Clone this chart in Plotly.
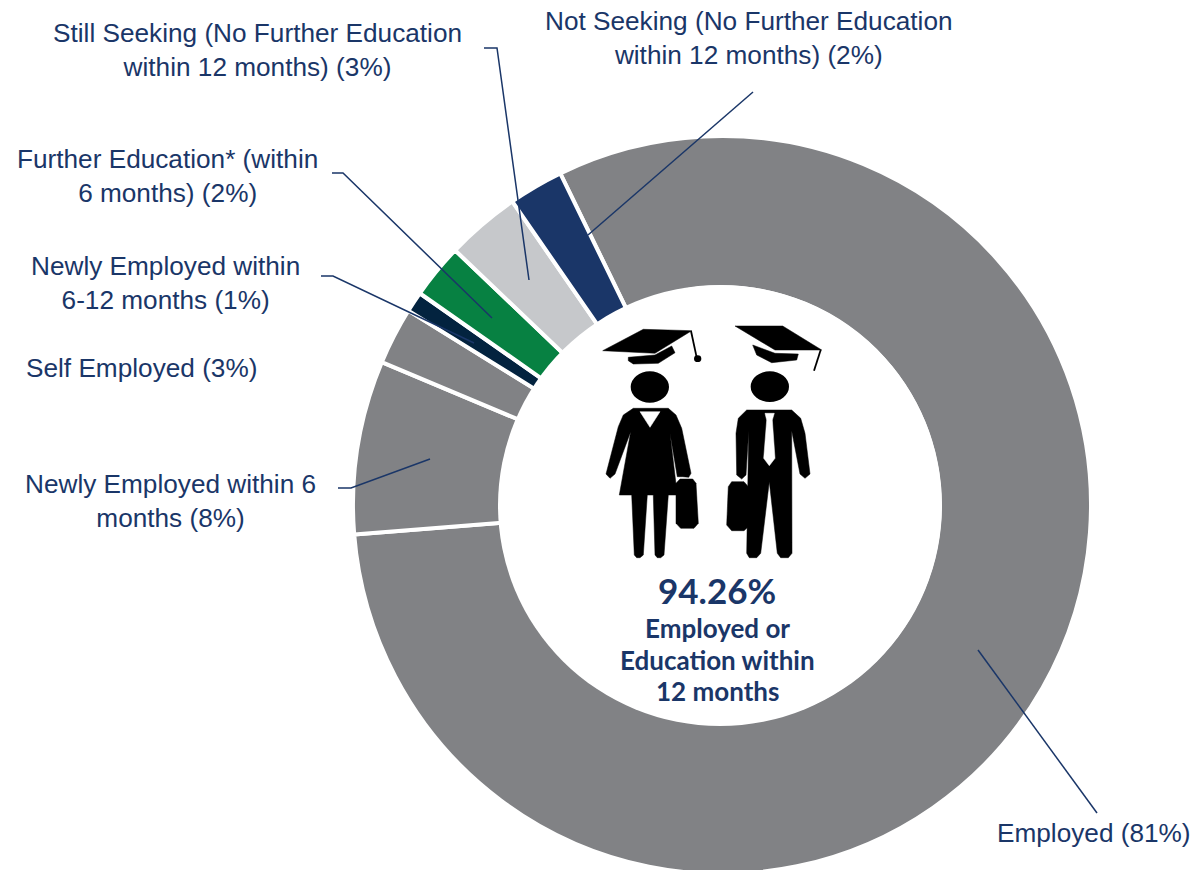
import plotly.graph_objects as go

# ---- data ----
categories = ["Employed", "Newly Employed within 6 months", "Self Employed",
              "Newly Employed within 6-12 months", "Further Education* (within 6 months)",
              "Still Seeking (No Further Education within 12 months)",
              "Not Seeking (No Further Education within 12 months)"]
shares = [80.95, 7.6, 2.5, 0.9, 2.4, 3.25, 2.4]
slice_colors = ["#818285", "#818285", "#818285", "#03233F", "#078142", "#C6C8CB", "#1A3668"]
label_texts = ["Employed (81%)", "Newly Employed within 6<br>months (8%)", "Self Employed (3%)",
               "Newly Employed within<br>6-12 months (1%)", "Further Education* (within<br>6 months) (2%)",
               "Still Seeking (No Further Education<br>within 12 months) (3%)",
               "Not Seeking (No Further Education<br>within 12 months) (2%)"]
label_x = [1094, 170, 141, 165, 167, 257, 749]
label_y = [833, 501, 368, 283, 176, 50, 38]
leaders = [[(978, 650), (1097, 813)],
           [(338, 488), (351, 488), (430, 459)],
           None,
           [(321, 276), (333, 276), (474, 343)],
           [(332, 173), (343, 173), (492, 318)],
           [(484, 48), (497, 48), (529, 280)],
           [(753, 92), (588, 235)]]
center_big = "94.26%"
center_small = ["Employed or", "Education within", "12 months"]

W, H = 1193, 880
NAVY = "#1A3668"
CX, CY, R = 722, 505, 369

fig = go.Figure()
fig.add_trace(go.Scatter(x=[None], y=[None], showlegend=False, hoverinfo="skip"))
fig.add_trace(go.Pie(
    labels=categories, values=shares, sort=False, direction="clockwise", rotation=-26,
    hole=0.59, textinfo="none", showlegend=False,
    marker=dict(colors=slice_colors, line=dict(color="white", width=4)),
    domain=dict(x=[(CX - R) / W, (CX + R) / W], y=[(H - CY - R) / H, (H - CY + R) / H]),
))

shapes = []
annotations = []

# white centre disc, slightly off the ring's centre as in the picture
shapes.append(dict(type="circle", x0=498, x1=942, y0=285, y1=726, xref="x", yref="y", layer="above",
                   fillcolor="white", line=dict(color="white", width=0)))

for pts in leaders:
    if pts:
        d = "M" + " L".join(f"{x},{y}" for x, y in pts)
        shapes.append(dict(type="path", path=d, xref="x", yref="y", layer="above",
                           line=dict(color=NAVY, width=1.5)))


# ---- icon: coordinates taken from a 3x crop whose origin is (590, 300) ----
def Z(x, y):
    return 590 + x / 3, 300 + y / 3


def poly(points, color="black"):
    d = "M" + " L".join("{:.1f},{:.1f}".format(*Z(*p)) for p in points) + " Z"
    shapes.append(dict(type="path", path=d, xref="x", yref="y", layer="above",
                       fillcolor=color, line=dict(color=color, width=0.5)))


def oval(x0, y0, x1, y1):
    a, b = Z(x0, y0), Z(x1, y1)
    shapes.append(dict(type="circle", x0=a[0], y0=a[1], x1=b[0], y1=b[1], xref="x", yref="y",
                       layer="above", fillcolor="black", line=dict(color="black", width=0)))


def stroke(p, q, w):
    a, b = Z(*p), Z(*q)
    shapes.append(dict(type="line", x0=a[0], y0=a[1], x1=b[0], y1=b[1], xref="x", yref="y",
                       layer="above", line=dict(color="black", width=w)))


# woman
oval(122, 214, 237, 308)
poly([(130, 325), (235, 325), (258, 345), (275, 385), (303, 520), (296, 532), (278, 530), (262, 530),
      (240, 400), (262, 585), (235, 585), (222, 765), (212, 773), (202, 773), (195, 765), (190, 585), (172, 585),
      (160, 765), (150, 773), (140, 773), (133, 765), (125, 585), (88, 585), (122, 395), (75, 522),
      (60, 535), (48, 522), (85, 380), (100, 345)])
poly([(150, 335), (210, 335), (180, 382)], "white")
poly([(270, 537), (308, 537), (318, 550), (325, 670), (312, 685), (272, 685), (258, 670), (258, 550)])
# man
oval(482, 214, 597, 306)
poly([(470, 330), (605, 330), (632, 355), (645, 400), (660, 522), (645, 535), (630, 522), (605, 392),
      (606, 760), (595, 773), (572, 773), (562, 760), (538, 545), (512, 760), (500, 773), (478, 773), (470, 760),
      (476, 392), (468, 525), (455, 537), (440, 525), (438, 400), (445, 355)])
poly([(525, 340), (553, 340), (547, 360), (555, 475), (538, 497), (521, 475), (530, 360)], "white")
poly([(425, 545), (462, 545), (475, 560), (475, 680), (462, 692), (425, 692), (410, 675), (415, 560)])
# caps
poly([(38, 152), (160, 88), (305, 92), (195, 160)])
poly([(115, 172), (195, 165), (245, 138), (255, 158), (205, 190), (130, 192), (115, 182)])
stroke((303, 93), (320, 172), 1.8)
oval(312, 166, 334, 186)
poly([(435, 78), (578, 78), (695, 150), (555, 150)])
poly([(488, 135), (555, 160), (625, 162), (620, 180), (545, 188), (500, 165)])
stroke((692, 150), (672, 212), 1.8)

# ---- labels ----
for txt, x, y in zip(label_texts, label_x, label_y):
    annotations.append(dict(text=txt, x=x, y=y, xref="x", yref="y", showarrow=False, align="center",
                            xanchor="center", yanchor="middle",
                            font=dict(family="Liberation Sans, Arial", size=26.2, color=NAVY),
                            ))
annotations.append(dict(text="<b>" + center_big + "</b>", x=717, y=590, xref="x", yref="y", showarrow=False,
                        xanchor="center", yanchor="middle",
                        font=dict(family="Lato", size=35, color=NAVY)))
for txt, y in zip(center_small, [628, 660, 691]):
    annotations.append(dict(text="<b>" + txt + "</b>", x=717, y=y, xref="x", yref="y", showarrow=False,
                            xanchor="center", yanchor="middle",
                            font=dict(family="Lato", size=26, color=NAVY)))

fig.update_layout(
    width=W, height=H, autosize=False, margin=dict(l=0, r=0, t=0, b=0),
    paper_bgcolor="white", plot_bgcolor="rgba(0,0,0,0)", showlegend=False,
    xaxis=dict(range=[0, W], visible=False, fixedrange=True),
    yaxis=dict(range=[H, 0], visible=False, fixedrange=True),
    shapes=shapes, annotations=annotations,
)

fig.write_html("out.html", post_script="document.body.style.margin='0';document.body.style.overflow='hidden';",
               config={"displayModeBar": False})
